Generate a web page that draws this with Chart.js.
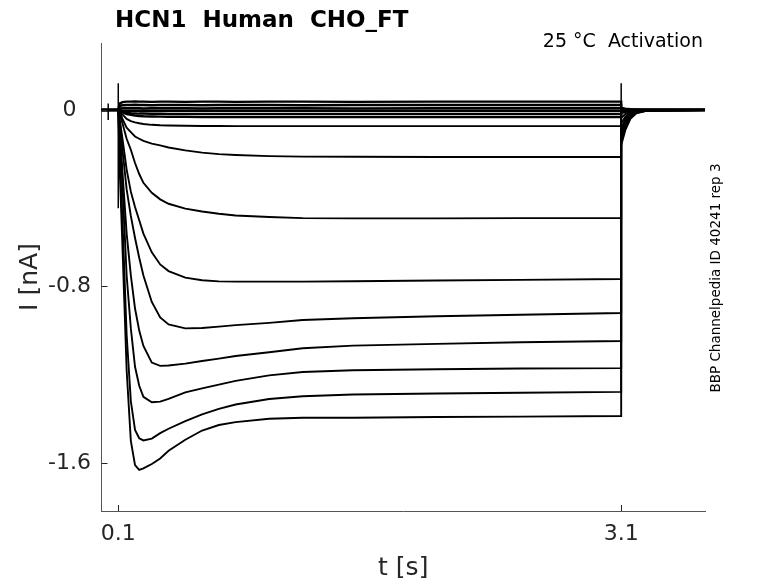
<!DOCTYPE html>
<html lang="en">

<head>
    <meta charset="UTF-8">
    <title>HCN1 Human CHO_FT - Activation</title>
    <script src="https://cdn.jsdelivr.net/npm/chart.js"></script>
    <style>
        body { margin: 0; background: #fff; }
        #grafico { display: block; }
    </style>
</head>

<body>
    <canvas id="grafico" width="778" height="583"></canvas>
</body>

</html>
<script>

    // tempo [s] - grade comum a todas as varreduras (3.1 repetido = salto do pulso)
    var tempo = [0, 0.1, 0.11, 0.125, 0.15, 0.175, 0.2, 0.225, 0.25, 0.3, 0.35, 0.4, 0.5, 0.6, 0.7, 0.8, 1.0, 1.2, 1.5, 2.0, 2.5, 3.1, 3.1, 3.125, 3.155, 3.19, 3.25, 3.6];

    // corrente [nA] de cada varredura
    var varr01 = [0, 0, -0.30, -0.62, -1.18, -1.50, -1.61, -1.632, -1.625, -1.605, -1.58, -1.545, -1.495, -1.453, -1.428, -1.415, -1.40, -1.395, -1.395, -1.392, -1.39, -1.387, -0.16, -0.09, -0.04, -0.015, -0.003, 0];
    var varr02 = [0, 0, -0.22, -0.50, -1.02, -1.32, -1.45, -1.488, -1.498, -1.49, -1.465, -1.445, -1.41, -1.38, -1.355, -1.335, -1.31, -1.298, -1.29, -1.285, -1.282, -1.278, -0.145, -0.08, -0.035, -0.013, -0.003, 0];
    var varr03 = [0, 0, -0.14, -0.34, -0.75, -0.99, -1.164, -1.25, -1.30, -1.325, -1.322, -1.31, -1.28, -1.262, -1.245, -1.228, -1.203, -1.188, -1.18, -1.175, -1.172, -1.17, -0.13, -0.07, -0.03, -0.011, -0.002, 0];
    var varr04 = [0, 0, -0.10, -0.28, -0.56, -0.75, -0.90, -1.00, -1.07, -1.145, -1.16, -1.158, -1.15, -1.138, -1.127, -1.115, -1.098, -1.08, -1.068, -1.06, -1.053, -1.047, -0.115, -0.06, -0.026, -0.009, -0.002, 0];
    var varr05 = [0, 0, -0.06, -0.18, -0.36, -0.48, -0.58, -0.67, -0.75, -0.87, -0.94, -0.972, -0.99, -0.988, -0.982, -0.975, -0.965, -0.952, -0.944, -0.935, -0.928, -0.92, -0.10, -0.05, -0.022, -0.008, -0.002, 0];
    var varr06 = [0, 0, -0.05, -0.13, -0.27, -0.37, -0.44, -0.50, -0.56, -0.645, -0.70, -0.73, -0.76, -0.772, -0.777, -0.778, -0.778, -0.778, -0.776, -0.773, -0.77, -0.766, -0.085, -0.04, -0.018, -0.006, -0.001, 0];
    var varr07 = [0, 0, -0.02, -0.06, -0.13, -0.18, -0.24, -0.29, -0.33, -0.375, -0.405, -0.425, -0.447, -0.46, -0.47, -0.478, -0.485, -0.49, -0.491, -0.491, -0.49, -0.49, -0.06, -0.03, -0.013, -0.005, -0.001, 0];
    var varr08 = [0, 0, -0.01, -0.04, -0.08, -0.10, -0.12, -0.13, -0.14, -0.152, -0.16, -0.17, -0.183, -0.193, -0.2, -0.204, -0.209, -0.211, -0.212, -0.213, -0.213, -0.213, -0.035, -0.018, -0.008, -0.003, 0, 0];
    var varr09 = [0, 0, -0.005, -0.02, -0.04, -0.05, -0.056, -0.06, -0.063, -0.067, -0.069, -0.07, -0.071, -0.072, -0.072, -0.073, -0.073, -0.073, -0.073, -0.073, -0.073, -0.073, -0.015, -0.009, -0.004, -0.001, 0, 0];
    var varr10 = [0, 0, -0.004, -0.01, -0.018, -0.022, -0.025, -0.027, -0.028, -0.029, -0.03, -0.031, -0.031, -0.032, -0.032, -0.032, -0.032, -0.032, -0.032, -0.032, -0.032, -0.032, -0.01, -0.006, -0.003, -0.001, 0, 0];
    var varr11 = [0, 0, -0.004, -0.008, -0.012, -0.014, -0.015, -0.016, -0.016, -0.017, -0.017, -0.018, -0.018, -0.018, -0.018, -0.018, -0.018, -0.018, -0.018, -0.018, -0.018, -0.018, -0.008, -0.005, -0.002, -0.001, 0, 0];
    var varr12 = [0, 0, -0.001, -0.002, -0.003, -0.003, -0.003, -0.003, -0.003, -0.003, -0.003, -0.003, -0.003, -0.003, -0.003, -0.003, -0.003, -0.003, -0.003, -0.003, -0.003, -0.003, -0.004, -0.002, -0.001, 0, 0, 0];
    var varr13 = [0, 0, 0.006, 0.008, 0.008, 0.008, 0.008, 0.008, 0.007, 0.008, 0.008, 0.008, 0.008, 0.007, 0.008, 0.008, 0.008, 0.008, 0.007, 0.008, 0.008, 0.008, 0.002, 0.001, 0, 0, 0, 0];
    var varr14 = [0, 0.001, 0.018, 0.022, 0.023, 0.023, 0.024, 0.023, 0.023, 0.022, 0.023, 0.023, 0.023, 0.022, 0.023, 0.023, 0.023, 0.022, 0.023, 0.023, 0.023, 0.023, 0.006, 0.004, 0.003, 0.002, 0.001, 0.001];
    var varr15 = [0, 0.002, 0.03, 0.036, 0.038, 0.038, 0.039, 0.038, 0.038, 0.037, 0.038, 0.038, 0.037, 0.038, 0.038, 0.037, 0.038, 0.038, 0.037, 0.038, 0.038, 0.038, 0.01, 0.006, 0.004, 0.003, 0.002, 0.002];

    // transientes capacitivos (null = interrompe a linha)
    var transT = [0.04, 0.04, null, 0.1, 0.1, null, 3.1, 3.1];
    var transI = [0.03, -0.045, null, 0.122, -0.445, null, 0.122, -0.2];

    var ticksX = [0.1, 3.1];
    var ticksY = [-1.6, -0.8, 0];

    var varreduras = [varr01, varr02, varr03, varr04, varr05, varr06, varr07, varr08,
        varr09, varr10, varr11, varr12, varr13, varr14, varr15];

    function pontos(xs, ys) {
        var lista = [];
        for (var i = 0; i < xs.length; i++) {
            lista.push({ x: xs[i], y: ys[i] });
        }
        return lista;
    }

    var datasets = [];
    varreduras.forEach(function (v, i) {
        datasets.push({
            data: pontos(tempo, v),
            borderColor: '#000',
            borderWidth: i < 9 ? 1.9 : 2.4,
            pointRadius: 0,
            tension: 0
        });
    });
    datasets.push({
        data: pontos(transT, transI),
        borderColor: '#000',
        borderWidth: 1.5,
        pointRadius: 0,
        spanGaps: false
    });

    // textos fixos + marcas de escala para dentro (estilo MATLAB)
    var textos = {
        id: 'textos',
        afterDraw: function (chart) {
            var ctx = chart.ctx;
            var x = chart.scales.x, y = chart.scales.y;
            var area = chart.chartArea;
            ctx.save();
            ctx.strokeStyle = '#262626';
            ctx.lineWidth = 1;
            ticksY.forEach(function (v) {
                var py = Math.round(y.getPixelForValue(v)) + 0.5;
                ctx.beginPath();
                ctx.moveTo(area.left, py);
                ctx.lineTo(area.left + 6, py);
                ctx.stroke();
            });
            ticksX.forEach(function (v) {
                var px = Math.round(x.getPixelForValue(v)) + 0.5;
                ctx.beginPath();
                ctx.moveTo(px, area.bottom);
                ctx.lineTo(px, area.bottom - 6);
                ctx.stroke();
            });

            ctx.fillStyle = '#000';
            ctx.textBaseline = 'alphabetic';
            ctx.textAlign = 'left';
            ctx.font = 'bold 23px "DejaVu Sans"';
            ctx.fillText('HCN1  Human  CHO_FT', 115, 27);

            ctx.textAlign = 'right';
            ctx.font = '19px "DejaVu Sans"';
            ctx.fillText('25 °C  Activation', 703, 47);

            ctx.translate(716, 278);
            ctx.rotate(-Math.PI / 2);
            ctx.textAlign = 'center';
            ctx.textBaseline = 'middle';
            ctx.font = '13.5px "DejaVu Sans"';
            ctx.fillText('BBP Channelpedia ID 40241 rep 3', 0, 0);
            ctx.restore();
        }
    };

    const ctx = document.getElementById('grafico');

    new Chart(ctx, {
        type: 'line',
        data: { datasets: datasets },
        plugins: [textos],
        options: {
            responsive: false,
            animation: false,
            devicePixelRatio: 1,
            layout: { padding: { top: 43, right: 73, left: 0, bottom: 0 } },
            plugins: {
                legend: { display: false },
                tooltip: { enabled: false }
            },
            scales: {
                x: {
                    type: 'linear',
                    min: 0,
                    max: 3.6,
                    afterBuildTicks: function (scale) {
                        scale.ticks = ticksX.map(function (v) { return { value: v }; });
                    },
                    afterFit: function (scale) { scale.height = 72; },
                    grid: { display: false },
                    border: { display: true, color: '#555', width: 1 },
                    ticks: {
                        padding: 2,
                        color: '#262626',
                        font: { family: 'DejaVu Sans', size: 22 },
                        maxRotation: 0,
                        callback: function (v) { return String(v); }
                    },
                    title: {
                        display: true,
                        text: 't [s]',
                        color: '#262626',
                        font: { family: 'DejaVu Sans', size: 25 },
                        padding: { top: 0, bottom: 0 }
                    }
                },
                y: {
                    min: -1.818,
                    max: 0.304,
                    afterBuildTicks: function (scale) {
                        scale.ticks = ticksY.map(function (v) { return { value: v }; });
                    },
                    afterFit: function (scale) { scale.width = 101.5; },
                    grid: { display: false },
                    border: { display: true, color: '#555', width: 1 },
                    ticks: {
                        padding: 2.5,
                        crossAlign: 'center',
                        color: '#262626',
                        font: { family: 'DejaVu Sans', size: 22 },
                        callback: function (v) { return String(v); }
                    },
                    title: {
                        display: true,
                        text: 'I [nA]',
                        color: '#262626',
                        font: { family: 'DejaVu Sans', size: 25 },
                        padding: { top: 15, bottom: 0 }
                    }
                }
            }
        }
    });

</script>
